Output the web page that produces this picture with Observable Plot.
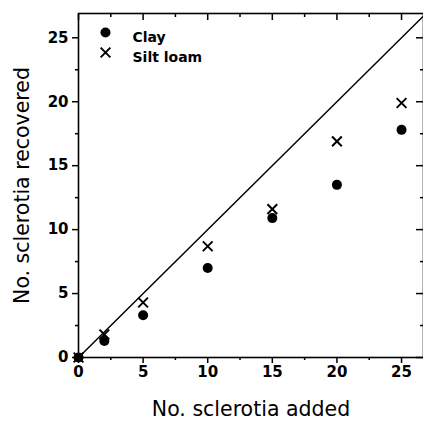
<!DOCTYPE html>
<html>
<head>
<meta charset="utf-8">
<script src="https://cdn.jsdelivr.net/npm/d3@7"></script>
<script src="https://cdn.jsdelivr.net/npm/@observablehq/plot@0.6"></script>
<style>
  html, body { margin: 0; padding: 0; background: #fff; }
  svg { display: block; }
</style>
</head>
<body>
<div id="chart"></div>
<script>
const added = [0, 2, 5, 10, 15, 20, 25];
const clay = [0, 1.3, 3.3, 7.0, 10.9, 13.5, 17.8];
const siltLoam = [0, 1.8, 4.3, 8.7, 11.6, 16.9, 19.9];
const majorTicks = [0, 5, 10, 15, 20, 25];
const minorTicks = [2.5, 7.5, 12.5, 17.5, 22.5];
const diagonal = [0, 30];
const legendLabels = ["Clay", "Silt loam"];
const xTitle = "No. sclerotia added";
const yTitle = "No. sclerotia recovered";

const clayData = added.map((a, i) => ({a, r: clay[i]}));
const siltData = added.map((a, i) => ({a, r: siltLoam[i]}));

const font = "DejaVu Sans, Liberation Sans, sans-serif";
const blank = () => "";

const chart = Plot.plot({
  width: 423,
  height: 421,
  marginLeft: 78,
  marginRight: 0,
  marginTop: 13,
  marginBottom: 64,
  style: {fontFamily: font, fontSize: "15px", color: "black", background: "white"},
  x: {domain: [0, 26.7]},
  y: {domain: [0, 26.9]},
  marks: [
    Plot.frame({stroke: "black", strokeWidth: 1.6}),
    Plot.axisX({anchor: "bottom", ticks: majorTicks, tickSize: 6, tickPadding: 3, tickFormat: d => d, label: null, strokeWidth: 1.5, fontWeight: "bold"}),
    Plot.axisX({anchor: "bottom", ticks: minorTicks, tickSize: 3, tickFormat: blank, label: null, strokeWidth: 1.5}),
    Plot.axisX({anchor: "top", ticks: majorTicks, tickSize: -6, tickFormat: blank, label: null, strokeWidth: 1.5}),
    Plot.axisX({anchor: "top", ticks: minorTicks, tickSize: -3, tickFormat: blank, label: null, strokeWidth: 1.5}),
    Plot.axisY({anchor: "left", ticks: majorTicks, tickSize: 6, tickPadding: 4, tickFormat: d => d, label: null, strokeWidth: 1.5, fontWeight: "bold"}),
    Plot.axisY({anchor: "left", ticks: minorTicks, tickSize: 3, tickFormat: blank, label: null, strokeWidth: 1.5}),
    Plot.axisY({anchor: "right", ticks: majorTicks, tickSize: -8, tickFormat: blank, label: null, strokeWidth: 1.5}),
    Plot.axisY({anchor: "right", ticks: minorTicks, tickSize: -4, tickFormat: blank, label: null, strokeWidth: 1.5}),
    Plot.text([xTitle], {frameAnchor: "bottom", dy: 52, text: d => d, textAnchor: "middle", lineAnchor: "middle", fontSize: 20.5, fill: "black"}),
    Plot.text([yTitle], {frameAnchor: "left", dx: -56, text: d => d, rotate: -90, textAnchor: "middle", lineAnchor: "middle", fontSize: 20.5, fill: "black"}),
    Plot.line(diagonal.map(v => [v, v]), {stroke: "black", strokeWidth: 1.5, clip: true}),
    Plot.dot(siltData, {x: "a", y: "r", symbol: "times", r: 4.5, stroke: "black", strokeWidth: 2}),
    Plot.dot(clayData, {x: "a", y: "r", symbol: "circle", r: 5, fill: "black", stroke: "none"}),
    Plot.dot([legendLabels[0]], {frameAnchor: "top-left", dx: 27, dy: 19, symbol: "circle", r: 5, fill: "black", stroke: "none"}),
    Plot.dot([legendLabels[1]], {frameAnchor: "top-left", dx: 27, dy: 39, symbol: "times", r: 4.5, stroke: "black", strokeWidth: 2}),
    Plot.text([legendLabels[0]], {frameAnchor: "top-left", dx: 54, dy: 19, text: d => d, textAnchor: "start", fontSize: 14, fontWeight: "bold", fill: "black"}),
    Plot.text([legendLabels[1]], {frameAnchor: "top-left", dx: 54, dy: 39, text: d => d, textAnchor: "start", fontSize: 14, fontWeight: "bold", fill: "black"})
  ]
});
document.getElementById("chart").appendChild(chart);
</script>
</body>
</html>
